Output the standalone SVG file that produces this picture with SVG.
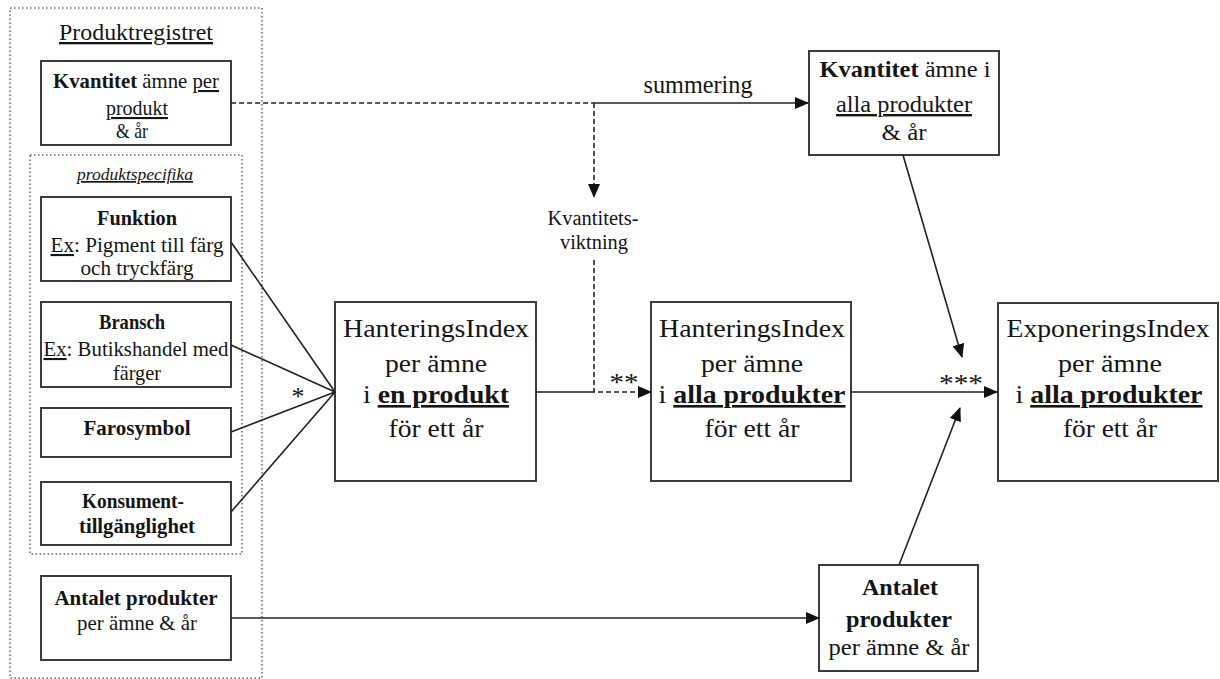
<svg xmlns="http://www.w3.org/2000/svg" width="1220" height="679" viewBox="0 0 1220 679">
<style>
text{font-family:"Liberation Serif","Times New Roman",serif;fill:#151515;text-anchor:middle}
.b{font-weight:bold}
.u{text-decoration:underline}
.box{fill:#fff;stroke:#3c3c3c;stroke-width:2}
.dot{fill:none;stroke:#666;stroke-width:1.5;stroke-dasharray:1.5 2.5}
.ln{fill:none;stroke:#222;stroke-width:1.6}
.dash{fill:none;stroke:#222;stroke-width:1.6;stroke-dasharray:5 3}
.s20{font-size:21px}
.s24{font-size:24px}
.s26{font-size:26px}
</style>
<defs>
<marker id="arr" markerWidth="14" markerHeight="12" refX="13" refY="6" orient="auto" markerUnits="userSpaceOnUse">
<path d="M0,0 L14,6 L0,12 z" fill="#111"/>
</marker>
</defs>
<rect width="1220" height="679" fill="#fff"/>

<g id="produktregistret">
<rect class="dot" x="10" y="8" width="252" height="670"/>
<text class="u" x="136" y="40" font-size="23" textLength="154" lengthAdjust="spacingAndGlyphs">Produktregistret</text>
</g>

<g id="produktspecifika">
<rect class="dot" x="30" y="155" width="212" height="399"/>
<text class="u" x="135" y="180" font-size="17" font-style="italic" textLength="116" lengthAdjust="spacingAndGlyphs">produktspecifika</text>
</g>

<g id="kvantitet-per-produkt">
<rect class="box" x="41" y="61" width="190" height="84"/>
<text class="s20" x="136" y="88" textLength="166" lengthAdjust="spacingAndGlyphs"><tspan class="b">Kvantitet</tspan> ämne <tspan class="u">per</tspan></text>
<text class="s20 u" x="137" y="115" textLength="62" lengthAdjust="spacingAndGlyphs">produkt</text>
<text class="s20" x="132" y="138" textLength="32" lengthAdjust="spacingAndGlyphs">&amp; år</text>
</g>

<g id="funktion">
<rect class="box" x="41" y="197" width="190" height="84"/>
<text class="s20 b" x="137" y="225" textLength="80" lengthAdjust="spacingAndGlyphs">Funktion</text>
<text class="s20" x="137" y="252" textLength="173" lengthAdjust="spacingAndGlyphs"><tspan class="u">Ex</tspan>: Pigment till färg</text>
<text class="s20" x="137" y="275" textLength="113" lengthAdjust="spacingAndGlyphs">och tryckfärg</text>
</g>

<g id="bransch">
<rect class="box" x="41" y="302" width="190" height="85"/>
<text class="s20 b" x="132" y="329" textLength="66" lengthAdjust="spacingAndGlyphs">Bransch</text>
<text class="s20" x="136" y="356" textLength="185" lengthAdjust="spacingAndGlyphs"><tspan class="u">Ex</tspan>: Butikshandel med</text>
<text class="s20" x="137" y="380" textLength="48" lengthAdjust="spacingAndGlyphs">färger</text>
</g>

<g id="farosymbol">
<rect class="box" x="41" y="408" width="190" height="49"/>
<text class="s20 b" x="137" y="435" textLength="107" lengthAdjust="spacingAndGlyphs">Farosymbol</text>
</g>

<g id="konsument">
<rect class="box" x="41" y="482" width="190" height="63"/>
<text class="s20 b" x="133" y="508" textLength="102" lengthAdjust="spacingAndGlyphs">Konsument-</text>
<text class="s20 b" x="137" y="533" textLength="116" lengthAdjust="spacingAndGlyphs">tillgänglighet</text>
</g>

<g id="antalet-vanster">
<rect class="box" x="41" y="576" width="190" height="84"/>
<text class="s20 b" x="136" y="605" textLength="163" lengthAdjust="spacingAndGlyphs">Antalet produkter</text>
<text class="s20" x="137" y="630" textLength="120" lengthAdjust="spacingAndGlyphs">per ämne &amp; år</text>
</g>

<g id="hi-en-produkt">
<rect class="box" x="335" y="302" width="201" height="179"/>
<text class="s26" x="436" y="337" textLength="186" lengthAdjust="spacingAndGlyphs">HanteringsIndex</text>
<text class="s26" x="436" y="372" textLength="102" lengthAdjust="spacingAndGlyphs">per ämne</text>
<text class="s26" x="436" y="403" textLength="146" lengthAdjust="spacingAndGlyphs">i <tspan class="b u">en produkt</tspan></text>
<text class="s26" x="436" y="437" textLength="95" lengthAdjust="spacingAndGlyphs">för ett år</text>
</g>

<g id="hi-alla-produkter">
<rect class="box" x="651" y="302" width="200" height="179"/>
<text class="s26" x="752" y="337" textLength="186" lengthAdjust="spacingAndGlyphs">HanteringsIndex</text>
<text class="s26" x="752" y="372" textLength="102" lengthAdjust="spacingAndGlyphs">per ämne</text>
<text class="s26" x="752" y="403" textLength="187" lengthAdjust="spacingAndGlyphs">i <tspan class="b u">alla produkter</tspan></text>
<text class="s26" x="752" y="437" textLength="95" lengthAdjust="spacingAndGlyphs">för ett år</text>
</g>

<g id="exponeringsindex">
<rect class="box" x="998" y="303" width="220" height="178"/>
<text class="s26" x="1108" y="337" textLength="203" lengthAdjust="spacingAndGlyphs">ExponeringsIndex</text>
<text class="s26" x="1110" y="372" textLength="104" lengthAdjust="spacingAndGlyphs">per ämne</text>
<text class="s26" x="1109" y="403" textLength="187" lengthAdjust="spacingAndGlyphs">i <tspan class="b u">alla produkter</tspan></text>
<text class="s26" x="1110" y="437" textLength="94" lengthAdjust="spacingAndGlyphs">för ett år</text>
</g>

<g id="kvantitet-alla">
<rect class="box" x="809" y="51" width="190" height="104"/>
<text class="s24" x="905" y="77" textLength="171" lengthAdjust="spacingAndGlyphs"><tspan class="b">Kvantitet</tspan> ämne i</text>
<text class="s24 u" x="904" y="112" textLength="136" lengthAdjust="spacingAndGlyphs">alla produkter</text>
<text class="s24" x="904" y="140" textLength="45" lengthAdjust="spacingAndGlyphs">&amp; år</text>
</g>

<g id="antalet-hoger">
<rect class="box" x="819" y="565" width="159" height="106"/>
<text class="s24 b" x="900" y="595" textLength="76" lengthAdjust="spacingAndGlyphs">Antalet</text>
<text class="s24 b" x="899" y="627" textLength="106" lengthAdjust="spacingAndGlyphs">produkter</text>
<text class="s24" x="899" y="655" textLength="141" lengthAdjust="spacingAndGlyphs">per ämne &amp; år</text>
</g>

<g id="connectors">
<path class="dash" d="M231,103 H594"/>
<path class="ln" d="M594,103 H808" marker-end="url(#arr)"/>
<path class="dash" d="M594,103 V197" marker-end="url(#arr)"/>
<path class="ln" d="M536,392 H594"/>
<path class="dash" d="M594,260 V392 H651" marker-end="url(#arr)"/>
<path class="ln" d="M231,242 L335,392 M231,345 L335,392 M231,432 L335,392 M231,512 L335,392"/>
<path class="ln" d="M851,392 H997" marker-end="url(#arr)"/>
<path class="ln" d="M903,155 L962,357" marker-end="url(#arr)"/>
<path class="ln" d="M899,565 L960,408" marker-end="url(#arr)"/>
<path class="ln" d="M231,618 H819" marker-end="url(#arr)"/>
<text x="698" y="93" font-size="25" textLength="109" lengthAdjust="spacingAndGlyphs">summering</text>
<text x="593" y="225" font-size="20" textLength="91" lengthAdjust="spacingAndGlyphs">Kvantitets-</text>
<text x="594" y="249" font-size="20" textLength="68" lengthAdjust="spacingAndGlyphs">viktning</text>
<text x="298" y="405" font-size="26">*</text>
<text x="624" y="391" font-size="26" textLength="29" lengthAdjust="spacingAndGlyphs">**</text>
<text x="961" y="392" font-size="26" textLength="44" lengthAdjust="spacingAndGlyphs">***</text>
</g>
</svg>
